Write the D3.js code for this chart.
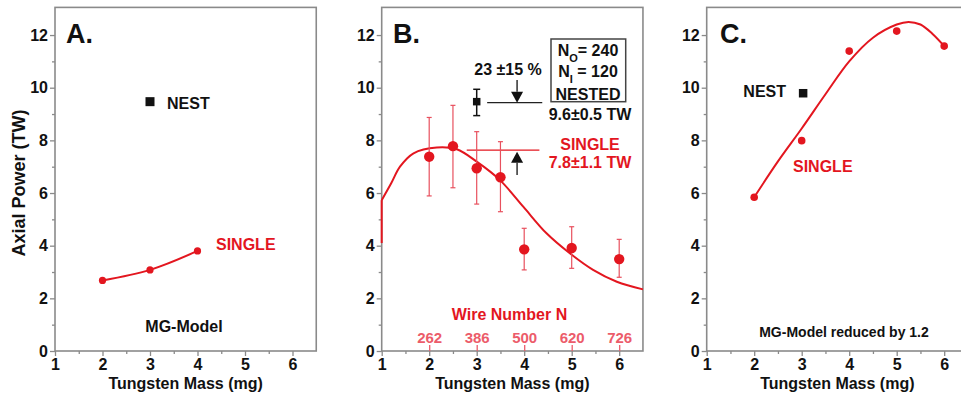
<!DOCTYPE html>
<html><head><meta charset="utf-8">
<script src="https://cdn.jsdelivr.net/npm/d3@7/dist/d3.min.js"></script>
<style>
html,body{margin:0;padding:0;background:#fff;}
svg{display:block;font-family:"Liberation Sans",Arial,Helvetica,sans-serif;font-weight:bold;}
</style></head><body>
<svg id="chart" width="961" height="394"></svg>
<script>
// ---------- data ----------
const massTicks = [1, 2, 3, 4, 5, 6];
const massMinor = [1.5, 2.5, 3.5, 4.5, 5.5];
const powerTicks = [0, 2, 4, 6, 8, 10, 12];
const powerMinor = [1, 3, 5, 7, 9, 11];

// Panel A (MG-Model)
const aSingleMass = [2, 3, 4];
const aSinglePower = [2.68, 3.08, 3.80];
const aNestMass = [3];
const aNestPower = [9.47];

// Panel B (experiment)
const bSingleMass = [2, 2.5, 3, 3.5, 4, 5, 6];
const bSinglePower = [7.38, 7.78, 6.94, 6.60, 3.86, 3.91, 3.49];
const bSingleLow = [5.89, 6.20, 5.58, 5.29, 3.08, 3.14, 2.80];
const bSingleHigh = [8.87, 9.33, 8.33, 7.95, 4.66, 4.72, 4.24];
const bNestMass = [3];
const bNestPower = [9.47];
const bNestLow = [8.94];
const bNestHigh = [9.94];
const bFitMass = [1, 1, 1.2, 1.385, 1.67, 2.16, 2.58, 3.0, 3.49, 3.98, 4.47, 4.96, 5.45, 5.95, 6.5];
const bFitPower = [4.1, 5.73, 6.37, 7.0, 7.51, 7.73, 7.66, 7.19, 6.49, 5.48, 4.47, 3.71, 3.08, 2.63, 2.34];
const wireMass = [2, 3, 4, 5, 6];
const wireLabels = ["262", "386", "500", "620", "726"];
const refLineStart = [3.22, 2.79];
const refLineEnd = [4.38, 4.32];
const refLinePower = [9.43, 7.63];
const arrowMass = [3.85, 3.85];
const arrowTip = [9.43, 7.57];
const arrowTail = [10.29, 6.68];

// Panel C (MG-Model reduced by 1.2)
const cSingleMass = [2, 3, 4, 5, 6];
const cSinglePower = [5.84, 7.99, 11.39, 12.15, 11.58];
const cFitMass = [2, 2.5, 3, 3.5, 4, 4.5, 5, 5.25, 5.5, 5.75, 6];
const cFitPower = [5.84, 7.2, 8.45, 9.75, 11.0, 11.9, 12.4, 12.5, 12.4, 12.05, 11.58];
const cNestMass = [3.03];
const cNestPower = [9.79];

// ---------- layout ----------
const RED = "#e3161f";
const PINK = "#ec5c6a";
const FRAME = "#8a8a8a";
const svg = d3.select("#chart");
const xDomain = [1, 6.5];
const yDomain = [0, 13.05];
const plotTop = 7.4, plotBottom = 351, unitX = 47.5;

function makePanel(left) {
  const x = d3.scaleLinear().domain(xDomain).range([left, left + (xDomain[1] - xDomain[0]) * unitX]);
  const y = d3.scaleLinear().domain(yDomain).range([plotBottom, plotTop]);
  const g = svg.append("g");
  g.append("g").attr("transform", `translate(${left},0)`)
    .call(d3.axisLeft(y).tickValues(powerMinor).tickSize(3).tickFormat(""))
    .call(s => s.select(".domain").remove());
  g.append("g").attr("transform", `translate(0,${plotBottom})`)
    .call(d3.axisBottom(x).tickValues(massMinor).tickSize(3).tickFormat(""))
    .call(s => s.select(".domain").remove());
  g.append("g").attr("transform", `translate(${left},0)`)
    .call(d3.axisLeft(y).tickValues(powerTicks).tickSize(5).tickPadding(2).tickFormat(d3.format("d")))
    .call(s => s.select(".domain").remove());
  g.append("g").attr("transform", `translate(0,${plotBottom})`)
    .call(d3.axisBottom(x).tickValues(massTicks).tickSize(5).tickPadding(3).tickFormat(d3.format("d")))
    .call(s => s.select(".domain").remove());
  g.selectAll(".tick line").attr("stroke", FRAME).attr("stroke-width", 1.3);
  g.selectAll(".tick text").attr("fill", "#111").attr("font-size", 16)
    .attr("font-family", '"Liberation Sans",Arial,sans-serif').attr("font-weight", "bold");
  g.append("rect").attr("x", x(xDomain[0])).attr("y", y(yDomain[1]))
    .attr("width", x(xDomain[1]) - x(xDomain[0])).attr("height", y(0) - y(yDomain[1]))
    .attr("fill", "none").attr("stroke", FRAME).attr("stroke-width", 1.6);
  g.append("text").attr("x", x(3.75))
    .attr("y", 389).attr("text-anchor", "middle").attr("font-size", 16).attr("fill", "#111")
    .text("Tungsten Mass (mg)");
  return { g, x, y };
}

function label(g, txt, x, y, size, color, anchor) {
  return g.append("text").attr("x", x).attr("y", y).attr("font-size", size)
    .attr("fill", color || "#111").attr("text-anchor", anchor || "start").text(txt);
}
function squares(g, x, y, ms, ps, size) {
  g.selectAll(null).data(ms).enter().append("rect")
    .attr("x", (d) => x(d) - size / 2).attr("y", (d, i) => y(ps[i]) - size / 2)
    .attr("width", size).attr("height", size).attr("fill", "#111");
}
function dots(g, x, y, ms, ps, r) {
  g.selectAll(null).data(ms).enter().append("circle")
    .attr("cx", d => x(d)).attr("cy", (d, i) => y(ps[i])).attr("r", r).attr("fill", RED);
}
function errBars(g, x, y, ms, lo, hi, color, cap, w) {
  const e = g.append("g").attr("stroke", color).attr("stroke-width", w);
  ms.forEach((m, i) => {
    e.append("line").attr("x1", x(m)).attr("x2", x(m)).attr("y1", y(lo[i])).attr("y2", y(hi[i]));
    [lo[i], hi[i]].forEach(v => e.append("line").attr("x1", x(m) - cap / 2).attr("x2", x(m) + cap / 2)
      .attr("y1", y(v)).attr("y2", y(v)));
  });
}

svg.append("text").attr("transform", "translate(25,183) rotate(-90)")
  .attr("text-anchor", "middle").attr("font-size", 18).attr("fill", "#111").text("Axial Power (TW)");

// ---------- Panel A ----------
{
  const { g, x, y } = makePanel(55);
  label(g, "A.", 66, 43, 27);
  const line = d3.line().x(d => x(d[0])).y(d => y(d[1])).curve(d3.curveCatmullRom);
  g.append("path").datum(aSingleMass.map((m, i) => [m, aSinglePower[i]]))
    .attr("d", line).attr("fill", "none").attr("stroke", RED).attr("stroke-width", 2);
  dots(g, x, y, aSingleMass, aSinglePower, 3.6);
  squares(g, x, y, aNestMass, aNestPower, 9);
  label(g, "NEST", 167, 108.5, 16);
  label(g, "SINGLE", 216, 250, 16, RED);
  label(g, "MG-Model", 184, 332, 16, "#111", "middle");
}

// ---------- Panel B ----------
{
  const { g, x, y } = makePanel(381.7);
  label(g, "B.", 393, 43, 27);
  const wa = g.append("g").attr("transform", `translate(0,${plotBottom})`)
    .call(d3.axisTop(x).tickValues(wireMass).tickSize(6).tickPadding(2).tickFormat((d, i) => wireLabels[i]))
    .call(s => s.select(".domain").remove());
  wa.selectAll("line").attr("stroke", PINK).attr("stroke-width", 1.3);
  wa.selectAll("text").attr("fill", PINK).attr("font-size", 15)
    .attr("font-family", '"Liberation Sans",Arial,sans-serif').attr("font-weight", "bold");
  label(g, "Wire Number N", 509.5, 319.5, 16, RED, "middle");

  const pts = bFitMass.map((m, i) => [m, bFitPower[i]]);
  const lin = d3.line().x(d => x(d[0])).y(d => y(d[1]));
  g.append("path").datum(pts.slice(0, 2)).attr("d", lin)
    .attr("fill", "none").attr("stroke", RED).attr("stroke-width", 2);
  g.append("path").datum(pts.slice(1)).attr("d", lin.curve(d3.curveCatmullRom))
    .attr("fill", "none").attr("stroke", RED).attr("stroke-width", 2);

  const refColors = ["#222", RED];
  refLinePower.forEach((p, i) => {
    g.append("line").attr("x1", x(refLineStart[i])).attr("x2", x(refLineEnd[i]))
      .attr("y1", y(p)).attr("y2", y(p)).attr("stroke", refColors[i]).attr("stroke-width", 1.2);
  });
  arrowMass.forEach((m, i) => {
    const tipY = y(arrowTip[i]), tailY = y(arrowTail[i]);
    const dir = tailY < tipY ? 1 : -1;
    const baseY = tipY - dir * 11;
    g.append("line").attr("x1", x(m)).attr("x2", x(m)).attr("y1", tailY).attr("y2", baseY)
      .attr("stroke", "#111").attr("stroke-width", 1.3);
    g.append("path").attr("d", `M${x(m) - 6},${baseY}L${x(m) + 6},${baseY}L${x(m)},${tipY}Z`).attr("fill", "#111");
  });

  errBars(g, x, y, bSingleMass, bSingleLow, bSingleHigh, "#e8505e", 5, 1.2);
  dots(g, x, y, bSingleMass, bSinglePower, 5.2);
  errBars(g, x, y, bNestMass, bNestLow, bNestHigh, "#111", 7, 1.5);
  squares(g, x, y, bNestMass, bNestPower, 7.5);

  label(g, "23 \u00b115 %", 508, 75, 16, "#111", "middle");
  g.append("rect").attr("x", 551).attr("y", 39).attr("width", 74.7).attr("height", 62.7)
    .attr("fill", "none").attr("stroke", "#444").attr("stroke-width", 1.5);
  const t1 = label(g, "", 588, 55.5, 16, "#111", "middle");
  t1.append("tspan").text("N");
  t1.append("tspan").attr("font-size", 11).attr("dy", 6).text("O");
  t1.append("tspan").attr("dy", -6).text("= 240");
  const t2 = label(g, "", 588, 77, 16, "#111", "middle");
  t2.append("tspan").text("N");
  t2.append("tspan").attr("font-size", 11).attr("dy", 6).text("I");
  t2.append("tspan").attr("dy", -6).text(" = 120");
  label(g, "NESTED", 588, 99.5, 16, "#111", "middle");
  label(g, "9.6\u00b10.5 TW", 590, 120, 16, "#111", "middle");
  label(g, "SINGLE", 590, 150, 16, RED, "middle");
  label(g, "7.8\u00b11.1 TW", 590, 167.5, 16, RED, "middle");
}

// ---------- Panel C ----------
{
  const { g, x, y } = makePanel(706.7);
  label(g, "C.", 720, 43, 27);
  const line = d3.line().x(d => x(d[0])).y(d => y(d[1])).curve(d3.curveCatmullRom);
  g.append("path").datum(cFitMass.map((m, i) => [m, cFitPower[i]]))
    .attr("d", line).attr("fill", "none").attr("stroke", RED).attr("stroke-width", 2);
  dots(g, x, y, cSingleMass, cSinglePower, 3.8);
  squares(g, x, y, cNestMass, cNestPower, 8.5);
  label(g, "NEST", 786, 97, 16, "#111", "end");
  label(g, "SINGLE", 793, 172, 16, RED);
  label(g, "MG-Model reduced by 1.2", 844, 337, 14, "#111", "middle");
}
</script>
</body></html>
